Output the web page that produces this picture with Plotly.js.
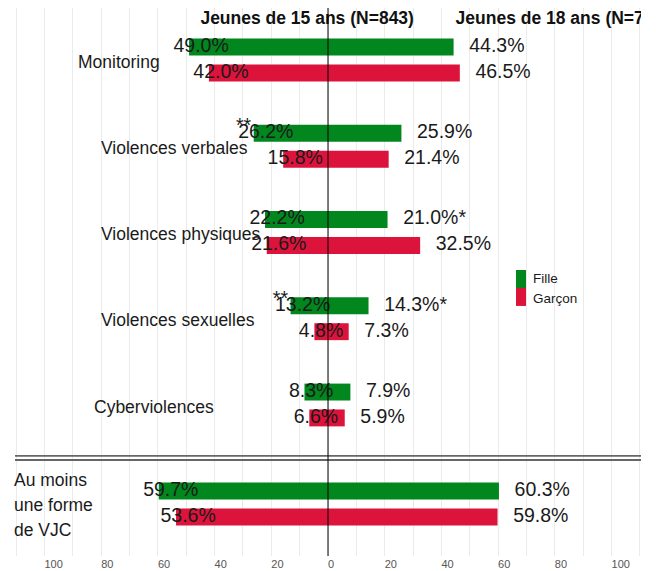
<!DOCTYPE html>
<html>
<head>
<meta charset="utf-8">
<script src="https://cdn.plot.ly/plotly-3.0.1.min.js"></script>
<style>html,body{margin:0;padding:0;background:#fff;}#chart{width:656px;height:571px;}</style>
</head>
<body>
<div id="chart"></div>
<script>
// ---- data ----
const categories = ['Monitoring', 'Violences verbales', 'Violences physiques', 'Violences sexuelles', 'Cyberviolences', 'Au moins<br>une forme<br>de VJC'];
const fille15 = [49.0, 26.2, 22.2, 13.2, 8.3, 59.7];
const garcon15 = [42.0, 15.8, 21.6, 4.8, 6.6, 53.6];
const fille18 = [44.3, 25.9, 21.0, 14.3, 7.9, 60.3];
const garcon18 = [46.5, 21.4, 32.5, 7.3, 5.9, 59.8];
const sigFille15 = ['', '**', '', '**', '', ''];
const sigFille18 = ['', '', '*', '*', '', ''];
const seriesNames = ['Fille', 'Garçon'];
const panelTitles = ['Jeunes de 15 ans (N=843)', 'Jeunes de 18 ans (N=749)'];
const tickValues = [-110, -100, -90, -80, -70, -60, -50, -40, -30, -20, -10, 0, 10, 20, 30, 40, 50, 60, 70, 80, 90, 100, 110];

// ---- layout constants ----
const FONT = 'Liberation Sans, Arial, sans-serif';
const colors = ['#02861E', '#DC143C'];
const n = categories.length;
const lastGap = 1.148;
const pos = categories.map((c, i) => i < n - 1 ? i : (n - 2) + lastGap);
const half = 0.15;
const pad = 5.5;
const labelLeft = [-88.8, -80.9, -80.9, -80.9, -83.4];

const fmt = v => v.toFixed(1) + '%';

function barTrace(vals, sign, k) {
  return {
    type: 'bar', orientation: 'h',
    x: vals.map(v => sign * v), y: pos,
    name: seriesNames[k], offsetgroup: 'g' + k, legendgroup: 'g' + k,
    showlegend: false,
    marker: {color: colors[k], line: {width: 0}},
    hoverinfo: 'skip'
  };
}
function textTrace(vals, sign, k, sig) {
  return {
    type: 'scatter', mode: 'text',
    x: vals.map(v => sign < 0 ? -(v + pad) : v + pad),
    y: pos.map(p => p + (k === 0 ? -half : half)),
    text: vals.map((v, i) => fmt(v) + (sig ? sig[i] : '')),
    textposition: 'middle right',
    textfont: {family: FONT, size: 19.5, color: '#1a1a1a'},
    showlegend: false, hoverinfo: 'skip', cliponaxis: false
  };
}

// significance stars for 15-year-olds (placed before the value)
const s15 = sigFille15.map((s, i) => i).filter(i => sigFille15[i] !== '');
const starTrace15 = {
  type: 'scatter', mode: 'text',
  x: s15.map(i => -(fille15[i] + pad) + 4.6),
  y: s15.map(i => pos[i] - half - 0.07),
  text: s15.map(i => sigFille15[i]),
  textposition: 'middle left',
  textfont: {family: FONT, size: 19.5, color: '#1a1a1a'},
  showlegend: false, hoverinfo: 'skip', cliponaxis: false
};

const titleTrace = {
  type: 'scatter', mode: 'text',
  x: [-45, 45], y: [-0.464, -0.464],
  text: panelTitles.map(t => '<b>' + t + '</b>'),
  textposition: 'middle right',
  textfont: {family: FONT, size: 17.5, color: '#111111'},
  showlegend: false, hoverinfo: 'skip', cliponaxis: true
};

const data = [
  barTrace(fille15, -1, 0), barTrace(fille18, 1, 0),
  barTrace(garcon15, -1, 1), barTrace(garcon18, 1, 1),
  textTrace(fille15, -1, 0), textTrace(garcon15, -1, 1),
  textTrace(fille18, 1, 0, sigFille18), textTrace(garcon18, 1, 1),
  starTrace15, titleTrace
];

const annotations = [];
categories.forEach((c, i) => {
  if (i < n - 1) {
    annotations.push({x: labelLeft[i], y: pos[i] + 0.02, xref: 'x', yref: 'y', text: c, showarrow: false,
      xanchor: 'left', yanchor: 'middle', font: {family: FONT, size: 17.5, color: '#1a1a1a'}});
  } else {
    const lines = c.split('<br>');
    lines.forEach((ln, j) => {
      annotations.push({x: -0.005, y: pos[i] + (j - 1) * 0.29 + 0.01, xref: 'paper', yref: 'y', text: ln, showarrow: false,
        xanchor: 'left', yanchor: 'middle', font: {family: FONT, size: 17.5, color: '#1a1a1a'}});
    });
  }
});
// legend labels
seriesNames.forEach((nm, k) => {
  annotations.push({x: 0.8243, y: 0.5055 - k * 0.0347, xref: 'paper', yref: 'paper', text: nm, showarrow: false,
    xanchor: 'left', yanchor: 'middle', font: {family: FONT, size: 13.5, color: '#1a1a1a'}});
});

const shapes = [
  {type: 'line', xref: 'paper', yref: 'y', x0: 0, x1: 1, y0: 4.591, y1: 4.591, line: {color: '#666666', width: 1.8}},
  {type: 'line', xref: 'paper', yref: 'y', x0: 0, x1: 1, y0: 4.638, y1: 4.638, line: {color: '#666666', width: 1.8}},
  {type: 'line', xref: 'x', yref: 'paper', x0: 0, x1: 0, y0: 0, y1: 1, line: {color: '#000000', width: 1}, layer: 'above'}
];
seriesNames.forEach((nm, k) => {
  shapes.push({type: 'rect', xref: 'paper', yref: 'paper', x0: 0.8003, x1: 0.8163,
    y0: 0.5219 - (k + 1) * 0.0328, y1: 0.5219 - k * 0.0328, fillcolor: colors[k], line: {width: 0}});
});

const layout = {
  width: 656, height: 571, autosize: false,
  margin: {l: 15, r: 15, t: 8, b: 15, pad: 0},
  paper_bgcolor: '#ffffff', plot_bgcolor: '#ffffff',
  barmode: 'group', bargap: 0.4, bargroupgap: 0.346,
  showlegend: false,
  font: {family: FONT},
  xaxis: {
    range: [-110.4, 110.4], tickmode: 'array', tickvals: tickValues,
    ticktext: tickValues.map(v => (Math.abs(v) <= 100 && v % 20 === 0) ? String(Math.abs(v)) : ''),
    showgrid: true, gridcolor: '#ebebeb', gridwidth: 1, zeroline: false, showline: false, ticks: '',
    ticklabelposition: 'outside right',
    tickfont: {family: FONT, size: 11, color: '#555555'}, automargin: false, fixedrange: true
  },
  yaxis: {
    range: [5.751, -0.603], showgrid: false, zeroline: false, showline: false, showticklabels: false,
    ticks: '', automargin: false, fixedrange: true
  },
  annotations: annotations,
  shapes: shapes
};

Plotly.newPlot('chart', data, layout, {displayModeBar: false, staticPlot: true});
</script>
</body>
</html>
